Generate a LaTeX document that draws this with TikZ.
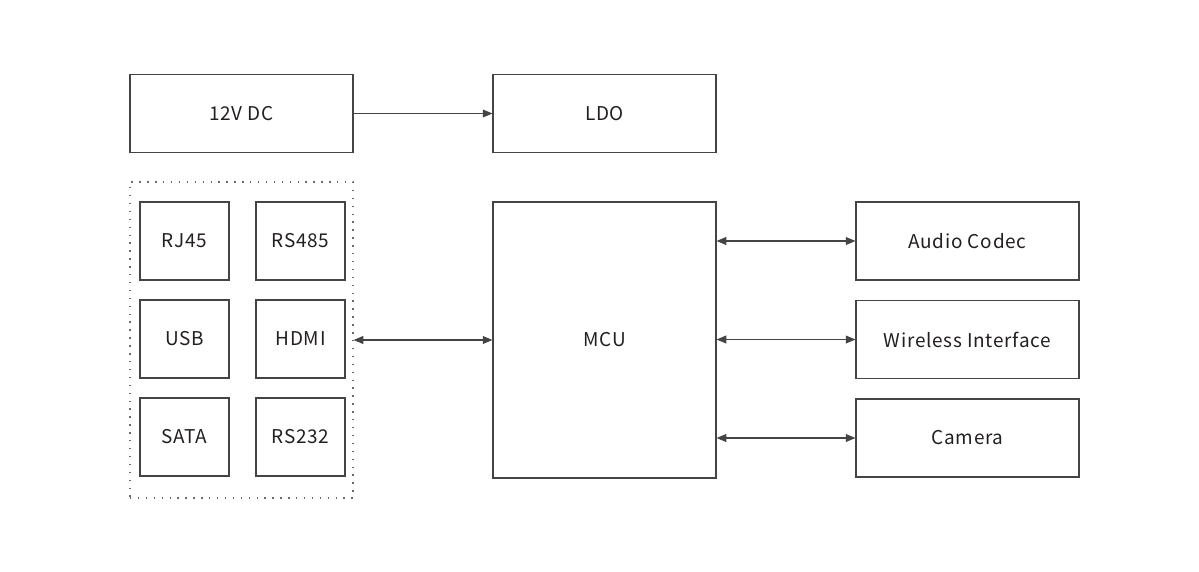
\documentclass[tikz,border=0pt]{standalone}
\usepackage{fontspec}
\setmainfont[LetterSpace=4]{Noto Sans CJK SC}
\usetikzlibrary{arrows.meta}
\definecolor{linegray}{HTML}{444444}
\definecolor{textgray}{HTML}{231F20}
\tikzset{
  block/.style={draw=linegray, line width=0.7pt, inner sep=0pt, text=textgray,
    minimum width=4.46cm, minimum height=1.56cm},
  port/.style={block, minimum width=1.78cm},
  link/.style={draw=linegray, line width=0.6pt, -{Triangle[length=5.5pt,width=4.5pt]}},
  dlink/.style={link, {Triangle[length=5.5pt,width=4.5pt]}-{Triangle[length=5.5pt,width=4.5pt]}}
}
\begin{document}
\begin{tikzpicture}[x=0.02cm,y=-0.02cm,font=\fontsize{10.8}{13}\selectfont]
\useasboundingbox (0,0) rectangle (1199,571);
% power
\node[block] (dc) at (241.5,113.5) {12V DC};
\node[block] (ldo) at (604.5,113.5) {LDO};
\draw[link] (dc) -- (ldo);
% interfaces
\node[draw=linegray!80, line width=0.7pt, dash pattern=on 0.8pt off 3.7pt,
  minimum width=4.46cm, minimum height=6.32cm] (grp) at (241.5,340) {};
\node[port] (rj) at (184.5,241) {RJ45};
\node[port] (rs4) at (300.5,241) {RS485};
\node[port] (usb) at (184.5,339) {USB};
\node[port] (hdmi) at (300.5,339) {HDMI};
\node[port] (sata) at (184.5,437) {SATA};
\node[port] (rs2) at (300.5,437) {RS232};
% core
\node[block, minimum height=5.52cm] (mcu) at (604.5,340) {MCU};
\draw[dlink] (grp) -- (mcu);
% peripherals
\node[block] (audio) at (967.5,241) {Audio Codec};
\node[block] (wifi) at (967.5,339.5) {Wireless Interface};
\node[block] (cam) at (967.5,438) {Camera};
\foreach \p in {audio,wifi,cam} {
  \draw[dlink] (mcu.east |- \p.west) -- (\p.west);
}
\end{tikzpicture}
\end{document}
